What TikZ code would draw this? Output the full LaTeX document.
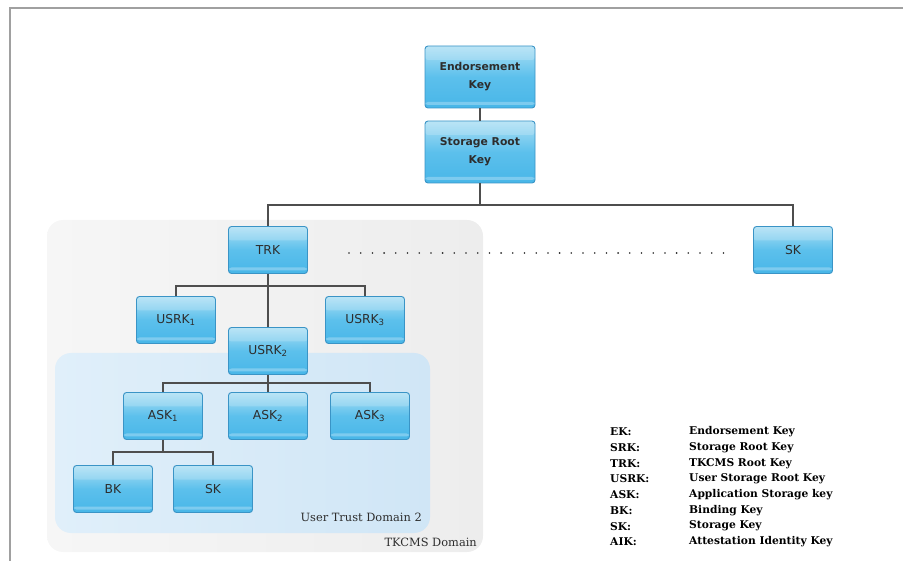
\documentclass[tikz,border=0pt]{standalone}
\usepackage{fontspec}
\setmainfont{DejaVu Sans}
\newfontfamily\keyfont{DejaVu Sans}
\newfontfamily\labelfont{DejaVu Serif}
\usetikzlibrary{calc}

\definecolor{boxtop}{RGB}{172,223,244}
\definecolor{boxmid}{RGB}{92,192,236}
\definecolor{boxbot}{RGB}{72,182,232}
\definecolor{boxedge}{RGB}{58,148,198}
\definecolor{connector}{RGB}{78,78,78}
\definecolor{framegray}{RGB}{160,160,160}
\definecolor{outerleft}{RGB}{246,246,246}
\definecolor{outerright}{RGB}{237,237,237}
\definecolor{innerleft}{RGB}{224,239,250}
\definecolor{innerright}{RGB}{208,230,246}
\definecolor{textdark}{RGB}{45,45,45}

\tikzset{
  keybox/.style={
    draw=boxedge, line width=0.9pt, rounded corners=3pt,
    top color=boxtop, bottom color=boxbot, middle color=boxmid,
    minimum width=79pt, minimum height=47pt, inner sep=0pt,
    text=textdark, font=\keyfont\fontsize{12.3}{14}\selectfont,
    path picture={
      \fill[white, opacity=0.28]
        ([yshift=3pt]path picture bounding box.south west) rectangle
        ([yshift=6pt]path picture bounding box.south east);
      \fill[white, opacity=0.18]
        (path picture bounding box.north west) rectangle
        ([yshift=-14pt]path picture bounding box.north east);
    }},
  bigbox/.style={keybox, minimum width=110pt, minimum height=62pt,
    font=\keyfont\bfseries\fontsize{10.8}{18}\selectfont, align=center},
  conn/.style={draw=connector, line width=2.6pt, line join=miter},
  domaintext/.style={font=\labelfont\fontsize{11.4}{13}\selectfont, text=textdark, inner sep=0pt},
  legendtext/.style={font=\labelfont\bfseries\fontsize{10.7}{12}\selectfont, text=black, inner sep=0pt, anchor=west}
}

\begin{document}
\begin{tikzpicture}[x=1pt, y=-1pt]
  \useasboundingbox (0,0) rectangle (903,561);

  % page frame
  \draw[framegray, line width=2pt] (10,561) -- (10,8) -- (903,8);

  % trust domains
  \node[draw=none, rounded corners=16pt, left color=outerleft, right color=outerright,
        minimum width=436pt, minimum height=332pt, inner sep=0pt] (tkcms) at (265,386) {};
  \node[draw=none, rounded corners=16pt, left color=innerleft, right color=innerright,
        minimum width=375pt, minimum height=180pt, inner sep=0pt] (utd) at (242.5,443) {};
  \node[domaintext, anchor=east] (utdlabel) at (422,517) {User Trust Domain 2};
  \node[domaintext, anchor=east] (tkcmslabel) at (477,542) {TKCMS Domain};

  % bus points of the tree
  \coordinate (bus1) at (480,205);
  \coordinate (bus2) at (268,286);
  \coordinate (bus3) at (268,383);
  \coordinate (bus4) at (163,452);

  % keys
  \node[bigbox] (ek)  at (480,77)  {Endorsement\\Key};
  \node[bigbox] (srk) at (480,152) {Storage Root\\Key};
  \node[keybox] (trk) at (268,250) {TRK};
  \node[keybox] (sktop) at (793,250) {SK};
  \node[keybox] (usrk1) at (176,320) {USRK\textsubscript{1}};
  \node[keybox] (usrk3) at (365,320) {USRK\textsubscript{3}};
  \node[keybox] (usrk2) at (268,351) {USRK\textsubscript{2}};
  \node[keybox] (ask1) at (163,416) {ASK\textsubscript{1}};
  \node[keybox] (ask2) at (268,416) {ASK\textsubscript{2}};
  \node[keybox] (ask3) at (370,416) {ASK\textsubscript{3}};
  \node[keybox] (bk)  at (113,489) {BK};
  \node[keybox] (sk)  at (213,489) {SK};

  % connectors
  \draw[conn] (ek.south) -- (srk.north);
  \draw[conn] (srk.south) -- (bus1);
  \draw[conn] (trk.north) |- (bus1) -| (sktop.north);
  \draw[conn] (trk.south) -- (usrk2.north);
  \draw[conn] (usrk1.north) |- (bus2) -| (usrk3.north);
  \draw[conn] (usrk2.south) -- (ask2.north);
  \draw[conn] (ask1.north) |- (bus3) -| (ask3.north);
  \draw[conn] (ask1.south) -- (bus4);
  \draw[conn] (bk.north) |- (bus4) -| (sk.north);

  % elided siblings between TRK and SK
  \coordinate (dotsa) at (349,253);
  \coordinate (dotsb) at (730,253);
  \draw[black!85, line width=1.8pt, line cap=round, dash pattern=on 0pt off 11.7pt] (dotsa) -- (dotsb);

  % legend
  \foreach \abbr/\full/\y in {EK:/Endorsement Key/432, SRK:/Storage Root Key/447.7,
      TRK:/TKCMS Root Key/463.4, USRK:/User Storage Root Key/479.1,
      ASK:/Application Storage key/494.8, BK:/Binding Key/510.5,
      SK:/Storage Key/526.2, AIK:/Attestation Identity Key/541.9} {
    \node[legendtext] at (610,\y) {\abbr};
    \node[legendtext] at (689,\y) {\full};
  }
\end{tikzpicture}
\end{document}
